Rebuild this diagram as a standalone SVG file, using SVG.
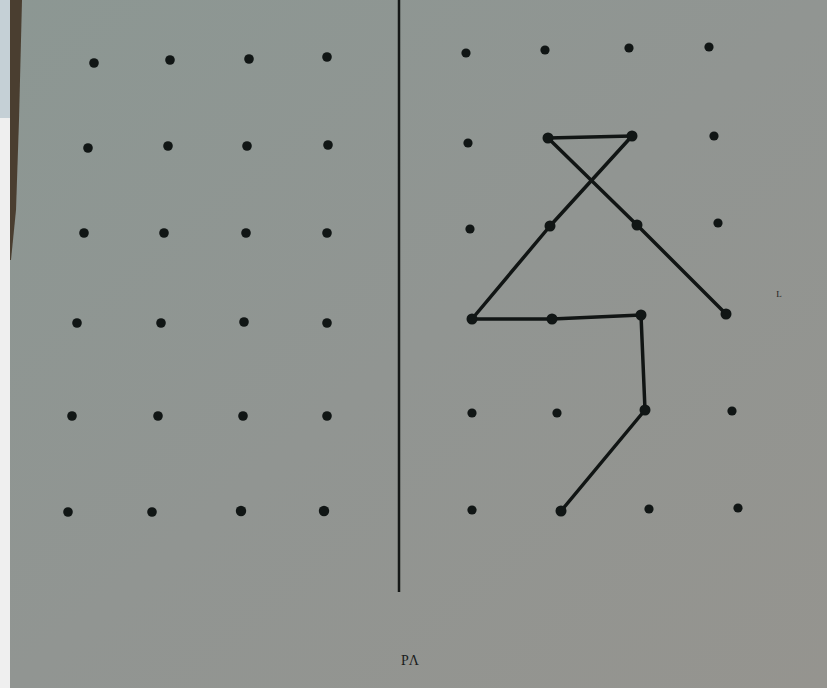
<svg xmlns="http://www.w3.org/2000/svg" width="827" height="688" viewBox="0 0 827 688">
<defs>
<linearGradient id="paper" x1="0" y1="0" x2="1" y2="1">
<stop offset="0" stop-color="#8c9793"/>
<stop offset="0.5" stop-color="#919592"/>
<stop offset="1" stop-color="#95948f"/>
</linearGradient>
<style>
.d{fill:#111615}
.ln{stroke:#111514;stroke-width:3.5;fill:none;stroke-linecap:round;stroke-linejoin:round}
.t{font-family:"Liberation Serif",serif;fill:#1a1c1c}
</style>
</defs>
<rect width="827" height="688" fill="#efefef"/>
<rect x="0" y="0" width="12" height="118" fill="#c5d0d6"/>
<rect x="10" y="0" width="817" height="688" fill="url(#paper)"/>
<polygon points="10,0 22,0 19,120 16,210 11,260 10,260" fill="#4a3e30"/>
<g id="divider"><line x1="399" y1="0" x2="399" y2="592" stroke="#151817" stroke-width="2.5"/></g>
<g id="left-grid">
<circle class="d" cx="94" cy="63" r="4.8"/><circle class="d" cx="170" cy="60" r="4.8"/><circle class="d" cx="249" cy="59" r="4.8"/><circle class="d" cx="327" cy="57" r="4.8"/>
<circle class="d" cx="88" cy="148" r="4.8"/><circle class="d" cx="168" cy="146" r="4.8"/><circle class="d" cx="247" cy="146" r="4.8"/><circle class="d" cx="328" cy="145" r="4.8"/>
<circle class="d" cx="84" cy="233" r="4.8"/><circle class="d" cx="164" cy="233" r="4.8"/><circle class="d" cx="246" cy="233" r="4.8"/><circle class="d" cx="327" cy="233" r="4.8"/>
<circle class="d" cx="77" cy="323" r="4.8"/><circle class="d" cx="161" cy="323" r="4.8"/><circle class="d" cx="244" cy="322" r="4.8"/><circle class="d" cx="327" cy="323" r="4.8"/>
<circle class="d" cx="72" cy="416" r="4.8"/><circle class="d" cx="158" cy="416" r="4.8"/><circle class="d" cx="243" cy="416" r="4.8"/><circle class="d" cx="327" cy="416" r="4.8"/>
<circle class="d" cx="68" cy="512" r="4.8"/><circle class="d" cx="152" cy="512" r="4.8"/><circle class="d" cx="241" cy="511" r="5.2"/><circle class="d" cx="324" cy="511" r="5.2"/>
</g>
<g id="connectors">
<polyline class="ln" points="548,138 632,136"/>
<polyline class="ln" points="548,138 637,225 726,314"/>
<polyline class="ln" points="632,136 550,226 472,319 552,319 641,315 645,410 561,511"/>
</g>
<g id="right-grid">
<circle class="d" cx="466" cy="53" r="4.6"/><circle class="d" cx="545" cy="50" r="4.6"/><circle class="d" cx="629" cy="48" r="4.6"/><circle class="d" cx="709" cy="47" r="4.6"/>
<circle class="d" cx="468" cy="143" r="4.6"/><circle class="d" cx="548" cy="138" r="5.5"/><circle class="d" cx="632" cy="136" r="5.5"/><circle class="d" cx="714" cy="136" r="4.6"/>
<circle class="d" cx="470" cy="229" r="4.6"/><circle class="d" cx="550" cy="226" r="5.5"/><circle class="d" cx="637" cy="225" r="5.5"/><circle class="d" cx="718" cy="223" r="4.6"/>
<circle class="d" cx="472" cy="319" r="5.5"/><circle class="d" cx="552" cy="319" r="5.5"/><circle class="d" cx="641" cy="315" r="5.5"/><circle class="d" cx="726" cy="314" r="5.5"/>
<circle class="d" cx="472" cy="413" r="4.6"/><circle class="d" cx="557" cy="413" r="4.6"/><circle class="d" cx="645" cy="410" r="5.5"/><circle class="d" cx="732" cy="411" r="4.6"/>
<circle class="d" cx="472" cy="510" r="4.6"/><circle class="d" cx="561" cy="511" r="5.5"/><circle class="d" cx="649" cy="509" r="4.6"/><circle class="d" cx="738" cy="508" r="4.6"/>
</g>
<g id="labels">
<text class="t" x="410" y="665" font-size="14" text-anchor="middle">PΛ</text>
<text class="t" x="779" y="297" font-size="9" text-anchor="middle" fill="#2a2a2a">L</text>
</g>
</svg>
